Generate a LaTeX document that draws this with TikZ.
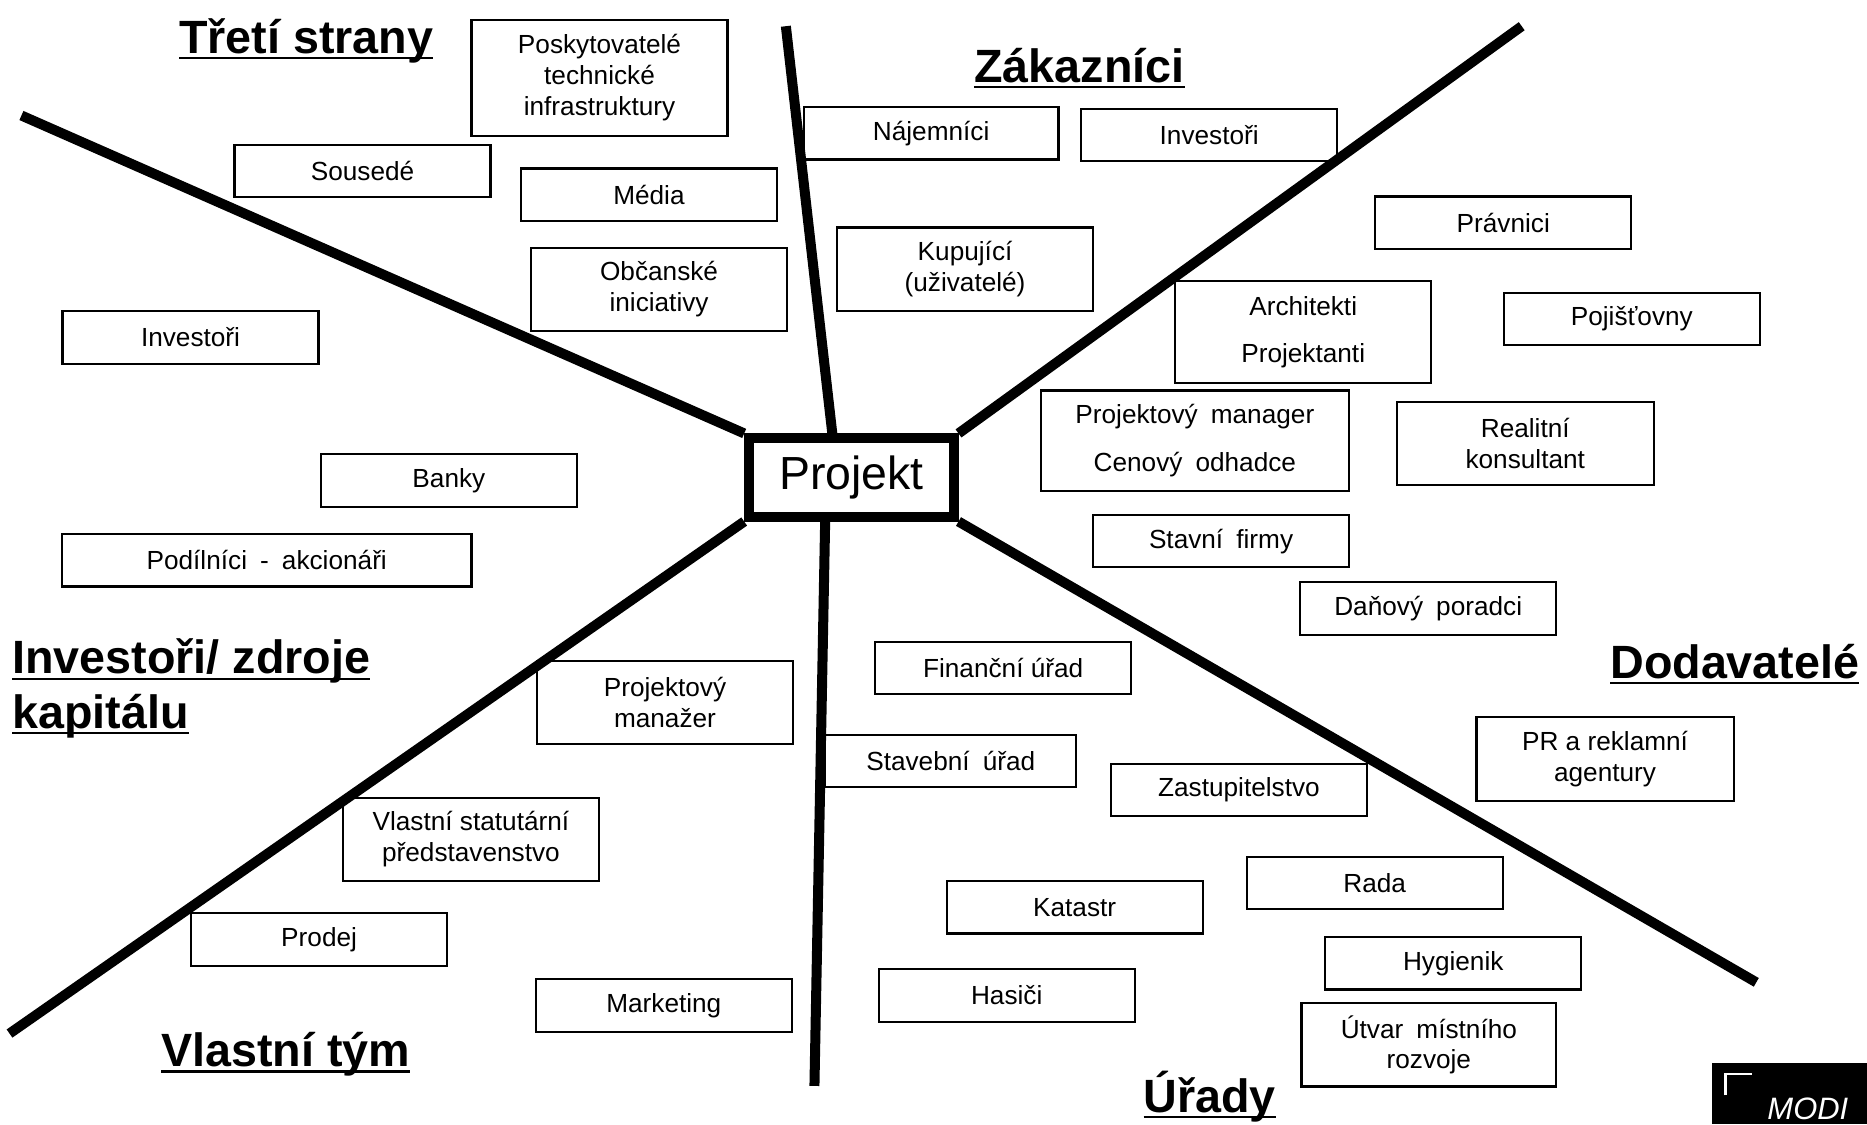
\documentclass[tikz,border=0pt]{standalone}
\usepackage{fontspec}
\setmainfont{Liberation Sans}
\newsavebox{\ulbox}
\newcommand{\uln}[1]{\sbox{\ulbox}{#1}\rlap{\rule[-2.4pt]{\wd\ulbox}{0.9pt}}\usebox{\ulbox}}
\newcommand{\wsp}{\hspace{0.5em}}
\tikzset{
  sbox/.style    = {draw, line width=0.9pt, minimum width=107.5pt, minimum height=22pt, align=center, inner sep=2pt, font=\fontsize{11}{13}\selectfont},
  tallbox/.style = {sbox, minimum height=35pt},
  hub/.style     = {draw, line width=4.2pt, minimum width=85.8pt, minimum height=32.8pt, inner sep=0pt, font=\fontsize{19.5}{22}\selectfont},
  spoke/.style   = {line width=4.2pt},
  group/.style   = {anchor=base west, inner sep=0pt, align=left, font=\fontsize{19.6}{23}\selectfont\bfseries}
}

\begin{document}
\begin{tikzpicture}[x=0.5pt, y=-0.5pt]
  \useasboundingbox (0,0) rectangle (1568,944);
  \node[hub] (proj) at (715,401) {Projekt};

  \coordinate (tl) at (18,97);
  \coordinate (tv) at (660,22);
  \coordinate (tr) at (1278,22);
  \coordinate (bl) at (8,868);
  \coordinate (bv) at (684,912);
  \coordinate (br) at (1475,825);
  \draw[spoke] (proj.north west) -- (tl);
  \draw[spoke] ([xshift=-8pt]proj.north) -- (tv);
  \draw[spoke] (proj.north east) -- (tr);
  \draw[spoke] (proj.south west) -- (bl);
  \draw[spoke] ([xshift=-11pt]proj.south) -- (bv);
  \draw[spoke] (proj.south east) -- (br);

  \node[group] (g1) at (150,45) {\uln{Třetí strany}};
  \node[group] (g2) at (818,69) {\uln{Zákazníci}};
  \node[group] (g3) at (10,612) {\uln{Investoři/ zdroje}\\\uln{kapitálu}};
  \node[group] (g4) at (1352,570) {\uln{Dodavatelé}};
  \node[group] (g5) at (135,896) {\uln{Vlastní tým}};
  \node[group] (g6) at (960,934) {\uln{Úřady}};

  \node[sbox, minimum height=48.5pt] (posk) at (503.5,65.5) {Poskytovatelé\\ technické\\ infrastruktury};
  \node[sbox] (sous) at (304.5,143.5) {Sousedé};
  \node[sbox] (media) at (545,163.5) {Média};
  \node[tallbox] (obc) at (553.5,243) {Občanské\\ iniciativy};
  \node[sbox] (inv1) at (160,283.5) {Investoři};
  \node[sbox, minimum width=107pt] (naj) at (782,112) {Nájemníci};
  \node[sbox] (inv2) at (1015.5,113.5) {Investoři};
  \node[tallbox] (kup) at (810.5,226) {Kupující\\ (uživatelé)};
  \node[sbox] (prav) at (1262.5,187) {Právnici};
  \node[sbox, minimum height=43pt] (arch) at (1094.5,279) {Architekti\\[7pt] Projektanti};
  \node[sbox] (poj) at (1370.5,268) {Pojišťovny};
  \node[sbox, minimum width=129.5pt, minimum height=42pt] (pm) at (1003.5,370) {Projektový\wsp manager\\[7pt] Cenový\wsp odhadce};
  \node[tallbox, minimum width=108pt] (real) at (1281,372.5) {Realitní\\ konsultant};
  \node[sbox] (stav) at (1025.5,454.5) {Stavní\wsp firmy};
  \node[sbox] (dan) at (1199.5,511) {Daňový\wsp poradci};
  \node[sbox] (banky) at (377,403.5) {Banky};
  \node[sbox, minimum width=172pt] (podil) at (224,470.5) {Podílníci\wsp -\wsp akcionáři};
  \node[sbox] (fin) at (842.5,561) {Finanční úřad};
  \node[tallbox] (pmz) at (558.5,590) {Projektový\\ manažer};
  \node[sbox, minimum width=105.5pt] (steb) at (798.5,639) {Stavební\wsp úřad};
  \node[sbox] (zast) at (1040.5,663.5) {Zastupitelstvo};
  \node[tallbox, minimum width=108pt] (pr) at (1348,637.5) {PR a reklamní\\ agentury};
  \node[tallbox] (vlast) at (395.5,705) {Vlastní statutární\\ představenstvo};
  \node[sbox] (rada) at (1154.5,741.5) {Rada};
  \node[sbox] (kat) at (902.5,762) {Katastr};
  \node[sbox] (prod) at (268,789) {Prodej};
  \node[sbox] (hyg) at (1220.5,809) {Hygienik};
  \node[sbox] (mark) at (557.5,844.5) {Marketing};
  \node[sbox] (has) at (845.5,836) {Hasiči};
  \node[tallbox, minimum width=107pt] (utv) at (1200,877.5) {Útvar\wsp místního\\ rozvoje};

  \fill (1438,893) rectangle (1568,944);
  \draw[white, line width=1.2pt] (1449,920) -- (1449,902) -- (1471,902);
  \node[anchor=base west, inner sep=0pt, text=white, font=\fontsize{13}{13}\selectfont\itshape] (logo) at (1484,940) {MODI};
\end{tikzpicture}
\end{document}
